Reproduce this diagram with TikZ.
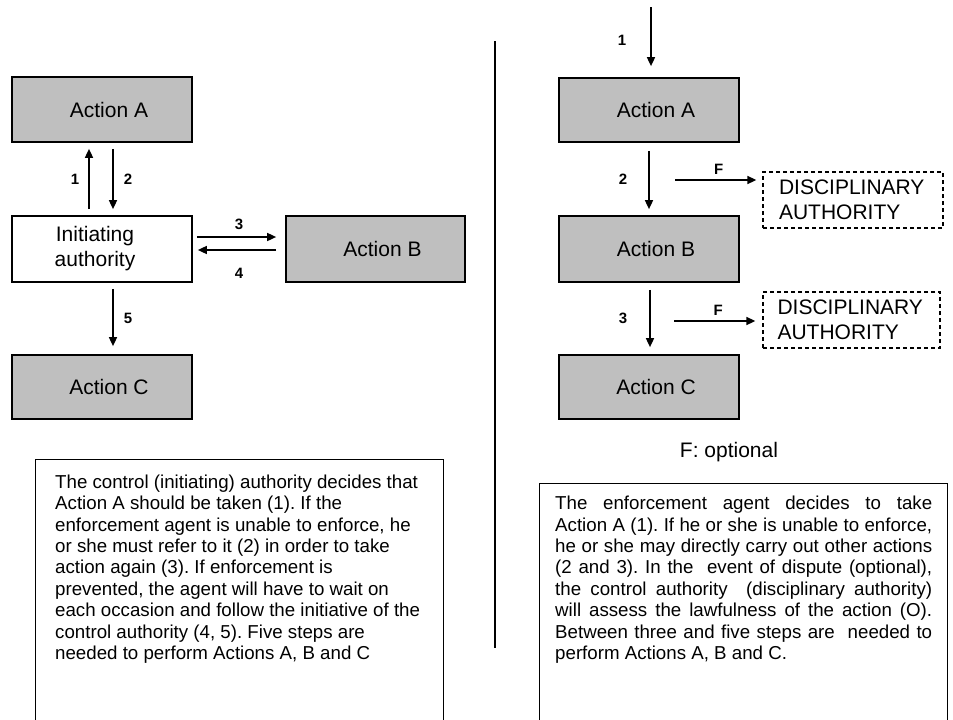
\documentclass[tikz,border=0pt]{standalone}
\usepackage{fontspec}
\setmainfont{Liberation Sans}
\usetikzlibrary{arrows.meta}

\newcommand\boxfont{\fontsize{21}{25}\selectfont}
\newcommand\numfont{\fontsize{15}{17}\selectfont\bfseries}
\newcommand\notefont{\fontsize{18.7}{21.4}\selectfont\frenchspacing}

\begin{document}
\begin{tikzpicture}[x=1pt,y=-1pt,line cap=butt,line join=miter,
    >={Triangle[length=9pt,width=8pt]},
    action/.style={draw,line width=1.7pt,fill=gray!50,minimum width=180pt,minimum height=65pt,font=\boxfont,
      execute at begin node=\hspace*{14pt}},
    authbox/.style={draw,line width=1.7pt,fill=white,minimum width=180pt,minimum height=66pt,font=\boxfont,align=center},
    discbox/.style={draw,dash pattern=on 4pt off 3pt,line width=1.3pt,minimum width=180pt,minimum height=56pt,
      font=\boxfont,align=left,text width=148pt},
    flow/.style={->,line width=1.6pt},
    num/.style={font=\numfont,inner sep=0pt}]
      \useasboundingbox (0,0) rectangle (953,720);
      \clip (0,0) rectangle (953,720);

      % Left: initiating authority scheme
      \node[action] (la) at (102,109.5) {Action A};
      \node[authbox] (ia) at (102,249) {\hspace*{-14pt}Initiating\\\hspace*{-14pt}authority};
      \node[action,minimum width=179pt,minimum height=66pt] (lb) at (375.5,249) {Action B};
      \node[action,minimum height=64pt] (lc) at (102,387) {Action C};

      \draw[flow,shorten <=6pt,shorten >=6pt] ([xshift=-13pt]ia.north) -- ([xshift=-13pt]la.south)
        node[midway,num,left=9pt] {1};
      \draw[flow,shorten <=6pt,shorten >=6pt] ([xshift=11pt]la.south) -- ([xshift=11pt]ia.north)
        node[midway,num,right=10pt] {2};
      \draw[flow,shorten <=4pt,shorten >=9pt] ([yshift=12pt]ia.east) -- ([yshift=12pt]lb.west)
        node[midway,num,above=7pt] {3};
      \draw[flow,shorten <=9pt,shorten >=5pt] ([yshift=-1pt]lb.west) -- ([yshift=-1pt]ia.east)
        node[midway,num,below=17pt] {4};
      \draw[flow,shorten <=6pt,shorten >=8pt] ([xshift=11pt]ia.south) -- ([xshift=11pt]lc.north)
        node[midway,num,right=10pt] {5};

      % Left note
      \draw[line width=0.8pt] (35,459) rectangle (443,730);
      \node[anchor=north west,inner sep=0pt,text width=390pt,align=left,font=\notefont] (lnote) at (55,474.5)
        {\spaceskip=0pt\xspaceskip=0pt
         The control (initiating) authority decides that\\
         Action A should be taken (1). If the\\
         enforcement agent is unable to enforce, he\\
         or she must refer to it (2) in order to take\\
         action again (3). If enforcement is\\
         prevented, the agent will have to wait on\\
         each occasion and follow the initiative of the\\
         control authority (4, 5). Five steps are\\
         needed to perform Actions A, B and C};

      % Divider
      \draw[line width=2pt] (495,41) -- (495,648);

      % Right: enforcement agent scheme
      \coordinate (start) at (651,7);
      \node[action,minimum height=64pt] (ra) at (649,110) {Action A};
      \node[action,minimum height=66pt] (rb) at (649,249) {Action B};
      \node[action,minimum height=64pt] (rc) at (649,387) {Action C};
      \node[discbox] (d1) at (853,200) {DISCIPLINARY\\AUTHORITY};
      \node[discbox,minimum width=177pt] (d2) at (851.5,320) {DISCIPLINARY\\AUTHORITY};

      \draw[flow,shorten >=11pt] (start) -- (start |- ra.north)
        node[pos=0.48,num,left=24pt] {1};
      \draw[flow,shorten <=8pt,shorten >=6pt] (ra.south) -- (rb.north)
        node[midway,num,left=21pt] {2};
      \draw[flow,shorten <=7pt,shorten >=7pt] ([xshift=1pt]rb.south) -- ([xshift=1pt]rc.north)
        node[midway,num,left=22pt] {3};

      \coordinate (f1) at (675,180);
      \coordinate (f2) at (674,321);
      \draw[flow,shorten >=6pt] (f1) -- (f1 -| d1.west) node[midway,num,above=5pt] {F};
      \draw[flow,shorten >=7pt] (f2) -- (f2 -| d2.west) node[midway,num,above=5pt] {F};

      \node[font=\boxfont] (opt) at (729,452) {F: optional};

      % Right note
      \draw[line width=0.8pt] (539,483) rectangle (947,730);
      \node[anchor=north west,inner sep=0pt,text width=390pt,align=left,font=\notefont] (rnote) at (555,496)
        {\spaceskip=0pt\xspaceskip=0pt
         \makebox[377pt][s]{The enforcement agent decides to take}\\
         \makebox[377pt][s]{Action A (1). If he or she is unable to enforce,}\\
         \makebox[377pt][s]{he or she may directly carry out other actions}\\
         \makebox[377pt][s]{(2 and 3). In the\ \ event of dispute (optional),}\\
         \makebox[377pt][s]{the control authority\ \ (disciplinary authority)}\\
         \makebox[377pt][s]{will assess the lawfulness of the action (O).}\\
         \makebox[377pt][s]{Between three and five steps are\ \ needed to}\\
         perform Actions A, B and C.};
    \end{tikzpicture}
\end{document}
